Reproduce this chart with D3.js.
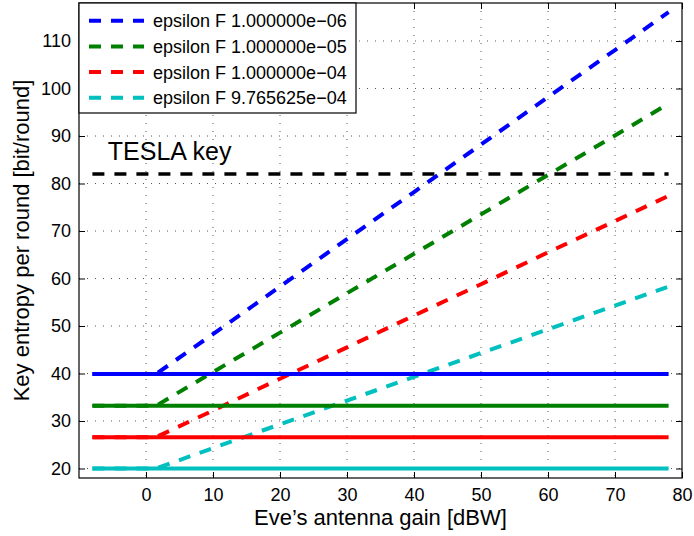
<!DOCTYPE html>
<html>
<head>
<meta charset="utf-8">
<script src="https://cdn.jsdelivr.net/npm/d3@7"></script>
<style>
body { margin: 0; background: #fff; }
text { font-family: "Liberation Sans", Arial, Helvetica, sans-serif; fill: #000; }
</style>
</head>
<body>
<div id="chart"></div>
<script>
var W = 694, H = 536;
var margin = { top: 3, right: 12, bottom: 58, left: 79 };
var width = W - margin.left - margin.right,
    height = H - margin.top - margin.bottom;

var gain = [-8, 1.5, 10, 20, 30, 40, 50, 60, 70, 78];
var labels = ["epsilon F 1.000000e\u221206", "epsilon F 1.000000e\u221205",
              "epsilon F 1.000000e\u221204", "epsilon F 9.765625e\u221204"];
var colors = ["#0000ff", "#008000", "#ff0000", "#00bfbf"];
var eveBlue  = [39.9, 39.9, 48.3, 58.3, 68.3, 78.2, 88.2, 98.2, 108.1, 116.1];
var eveGreen = [33.2, 33.2, 40.3, 48.6, 56.9, 65.2, 73.5, 81.8, 90.1, 96.8];
var eveRed   = [26.6, 26.6, 32.2, 38.9, 45.5, 52.2, 58.8, 65.5, 72.1, 77.4];
var eveCyan  = [20.0, 20.0, 24.3, 29.3, 34.3, 39.3, 44.3, 49.3, 54.3, 58.3];
var legit = [39.9, 33.2, 26.6, 20.0];
var tesla = 82;
var flatRange = [-8, 78];
var xTicks = [0, 10, 20, 30, 40, 50, 60, 70, 80];
var yTicks = [20, 30, 40, 50, 60, 70, 80, 90, 100, 110];

var eve = [eveBlue, eveGreen, eveRed, eveCyan];

var svg = d3.select("#chart").append("svg")
    .attr("width", W)
    .attr("height", H)
    .append("g")
    .attr("transform", "translate(" + margin.left + "," + margin.top + ")");

var x = d3.scaleLinear().domain([-10, 80]).range([0, width]);
var y = d3.scaleLinear().domain([18, 118]).range([height, 0]);

// dotted grid
svg.append("g").selectAll("line").data(xTicks.filter(function(d){ return d < 80; }))
    .enter().append("line")
    .attr("x1", function(d){ return x(d); })
    .attr("x2", function(d){ return x(d); })
    .attr("y1", 0).attr("y2", height)
    .attr("stroke", "#555").attr("stroke-width", 1)
    .attr("stroke-dasharray", "1,7");
svg.append("g").selectAll("line").data(yTicks)
    .enter().append("line")
    .attr("y1", function(d){ return y(d); })
    .attr("y2", function(d){ return y(d); })
    .attr("x1", 0).attr("x2", width)
    .attr("stroke", "#555").attr("stroke-width", 1)
    .attr("stroke-dasharray", "1,7");

var line = d3.line()
    .x(function(d){ return x(d[0]); })
    .y(function(d){ return y(d[1]); });

// Eve curves (dashed)
eve.forEach(function(vals, i) {
    svg.append("path")
        .datum(gain.map(function(g, j){ return [g, vals[j]]; }))
        .attr("d", line)
        .attr("fill", "none")
        .attr("stroke", colors[i])
        .attr("stroke-width", 4)
        .attr("stroke-dasharray", "12,10");
});

// legit levels (solid)
legit.forEach(function(v, i) {
    svg.append("path")
        .datum(flatRange.map(function(g){ return [g, v]; }))
        .attr("d", line)
        .attr("fill", "none")
        .attr("stroke", colors[i])
        .attr("stroke-width", 4);
});

svg.append("path")
    .datum(flatRange.map(function(g){ return [g, tesla]; }))
    .attr("d", line)
    .attr("fill", "none")
    .attr("stroke", "#000")
    .attr("stroke-width", 3.5)
    .attr("stroke-dasharray", "12,10");

svg.append("text")
    .attr("x", x(-5.7))
    .attr("y", y(tesla) - 14)
    .style("font-size", "25px")
    .text("TESLA key");

// axes, ticks inside on all four sides
var xAxis = d3.axisBottom(x).tickValues(xTicks).tickSizeInner(-6).tickSizeOuter(0).tickPadding(10);
var yAxis = d3.axisLeft(y).tickValues(yTicks).tickSizeInner(-6).tickSizeOuter(0).tickPadding(8);

var gx = svg.append("g").attr("transform", "translate(0," + height + ")").call(xAxis);
var gy = svg.append("g").call(yAxis);
svg.append("g").call(d3.axisTop(x).tickValues(xTicks).tickSizeInner(-6).tickSizeOuter(0).tickFormat(""));
svg.append("g").attr("transform", "translate(" + width + ",0)")
    .call(d3.axisRight(y).tickValues(yTicks).tickSizeInner(-6).tickSizeOuter(0).tickFormat(""));

svg.selectAll(".domain").remove();
svg.selectAll(".tick line").attr("stroke", "#000");
gx.selectAll("text").style("font-size", "18px").attr("fill", "#000");
gy.selectAll("text").style("font-size", "18px").attr("fill", "#000");

svg.append("rect")
    .attr("width", width).attr("height", height)
    .attr("fill", "none").attr("stroke", "#000").attr("stroke-width", 1.2);

svg.append("text")
    .attr("x", width / 2)
    .attr("y", height + 47)
    .attr("text-anchor", "middle")
    .style("font-size", "22px")
    .text("Eve\u2019s antenna gain [dBW]");

svg.append("text")
    .attr("transform", "translate(" + (29 - margin.left) + "," + height / 2 + ") rotate(-90)")
    .attr("text-anchor", "middle")
    .style("font-size", "22px")
    .text("Key entropy per round [bit/round]");

// legend
var legend = svg.append("g");
legend.append("rect")
    .attr("x", 0).attr("y", 0)
    .attr("width", 277).attr("height", 110)
    .attr("fill", "#fff").attr("stroke", "#000").attr("stroke-width", 1.2);
labels.forEach(function(lab, i) {
    var ly = 17.7 + i * 25.7;
    legend.append("line")
        .attr("x1", 10).attr("x2", 65)
        .attr("y1", ly).attr("y2", ly)
        .attr("stroke", colors[i])
        .attr("stroke-width", 4)
        .attr("stroke-dasharray", "12,10");
    legend.append("text")
        .attr("x", 74)
        .attr("y", ly + 6.5)
        .style("font-size", "18px")
        .text(lab);
});
</script>
</body>
</html>
